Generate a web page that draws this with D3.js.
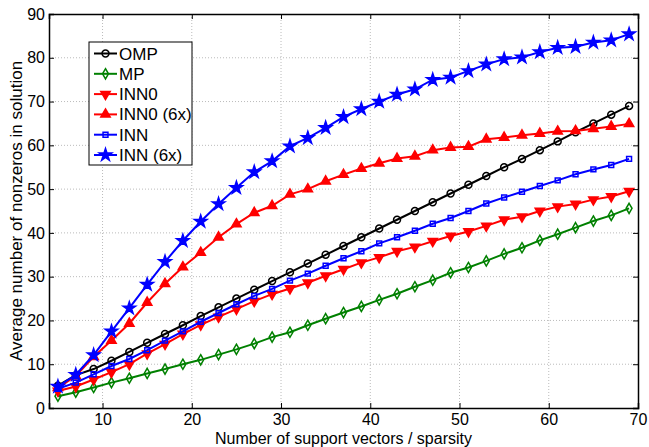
<!DOCTYPE html>
<html>
<head>
<meta charset="utf-8">
<script src="https://cdn.jsdelivr.net/npm/d3@7"></script>
<style>
  html, body { margin: 0; padding: 0; background: #fff; }
  svg { display: block; font-family: 'Liberation Sans', Arial, sans-serif; }
  .tick text { font-size: 16px; fill: #000; font-family: 'Liberation Sans', Arial, sans-serif; }
</style>
</head>
<body>
<div id="container"></div>
<script>
// Average number of nonzeros vs sparsity - line chart

//### DATA ###
const sparsity = [ 5, 7, 9, 11, 13, 15, 17, 19, 21, 23, 25, 27, 29, 31, 33, 35, 37, 39, 41, 43, 45, 47, 49, 51, 53, 55, 57, 59, 61, 63, 65, 67, 69 ];

const ompValues = [ 5.1, 7.5, 8.9, 10.8, 12.8, 14.9, 16.9, 18.9, 21.0, 23.0, 25.0, 27.0, 29.0, 31.0, 33.0, 35.0, 37.0, 39.0, 41.0, 43.0, 45.0, 47.0, 49.0, 51.0, 53.0, 55.0, 56.9, 58.9, 60.9, 63.0, 65.0, 67.0, 69.0 ];
const mpValues = [ 2.7, 3.6, 4.7, 5.8, 6.8, 7.9, 8.9, 10.0, 11.0, 12.2, 13.4, 14.7, 16.2, 17.3, 18.9, 20.4, 21.8, 23.2, 24.7, 26.1, 27.7, 29.2, 30.9, 32.1, 33.6, 35.2, 36.6, 38.3, 39.7, 41.2, 42.7, 44.0, 45.6 ];
const inn0Values = [ 3.9, 4.9, 6.5, 8.2, 10.0, 12.4, 14.6, 16.9, 19.0, 20.8, 22.6, 24.4, 26.0, 27.3, 28.6, 30.2, 31.7, 33.2, 34.4, 35.8, 36.8, 38.1, 39.3, 40.3, 41.6, 43.0, 43.7, 45.0, 46.0, 46.6, 47.6, 48.3, 49.5 ];
const inn06xValues = [ 4.6, 7.3, 11.7, 15.4, 19.3, 24.1, 28.4, 32.2, 35.5, 39.0, 42.0, 44.6, 46.2, 48.8, 50.0, 51.8, 53.3, 54.7, 55.9, 57.0, 57.5, 58.9, 59.5, 59.7, 61.4, 61.8, 62.3, 62.7, 63.2, 63.3, 63.8, 64.3, 64.9 ];
const innValues = [ 4.4, 5.8, 7.7, 9.6, 11.2, 13.2, 15.4, 17.5, 19.7, 21.7, 23.7, 25.6, 27.2, 29.1, 30.7, 32.5, 34.2, 35.8, 37.6, 39.0, 40.5, 42.1, 43.4, 45.0, 46.7, 48.1, 49.4, 50.7, 52.0, 53.4, 54.5, 55.5, 56.9 ];
const inn6xValues = [ 4.9, 7.6, 12.1, 17.5, 22.8, 28.2, 33.4, 38.2, 42.6, 46.6, 50.3, 53.9, 56.4, 59.8, 61.7, 64.0, 66.5, 68.3, 70.0, 71.6, 72.8, 75.0, 75.5, 77.0, 78.5, 79.7, 80.1, 81.3, 82.3, 82.5, 83.5, 84.0, 85.4 ];

const seriesNames = [ 'OMP', 'MP', 'INN0', 'INN0 (6x)', 'INN', 'INN (6x)' ];
const xTicks = [ 10, 20, 30, 40, 50, 60, 70 ];
const yTicks = [ 0, 10, 20, 30, 40, 50, 60, 70, 80, 90 ];

const xLabel = 'Number of support vectors / sparsity';
const yLabel = 'Average number of nonzeros in solution';


//### CREATE THE VISUALIZATION ###
function createVisualization () {

  //_____ VARIABLES _____
  const totalWidth = 649;
  const totalHeight = 447;
  const margin = { top: 14, right: 11, bottom: 39, left: 49 };
  const width = totalWidth - margin.left - margin.right;
  const height = totalHeight - margin.top - margin.bottom;


  //_____ SERIES STYLE _____
  //>>> marker shape, color, fill for each series (MATLAB look)
  const styles = [
    { color: '#000000', symbol: d3.symbolCircle, size: 38, filled: false, rotate: 0 },
    { color: '#008000', symbol: d3.symbolDiamond, size: 30, filled: false, rotate: 0 },
    { color: '#ff0000', symbol: d3.symbolTriangle, size: 38, filled: true, rotate: 180 },
    { color: '#ff0000', symbol: d3.symbolTriangle, size: 38, filled: true, rotate: 0 },
    { color: '#0000ff', symbol: d3.symbolSquare, size: 24, filled: false, rotate: 0 },
    { color: '#0000ff', symbol: d3.symbolStar, size: 48, filled: true, rotate: 0 }
  ];

  const seriesValues = [ ompValues, mpValues, inn0Values, inn06xValues, innValues, inn6xValues ];

  const series = seriesNames.map( ( name, i ) => ( {
    name,
    style: styles[ i ],
    points: sparsity.map( ( x, j ) => ( { x, y: seriesValues[ i ][ j ] } ) )
  } ) );


  //_____ SET THE SCALES _____
  const xScale = d3.scaleLinear()
    .domain( [ 4, 70 ] )
    .range( [ 0, width ] );

  const yScale = d3.scaleLinear()
    .domain( [ 0, 90 ] )
    .range( [ height, 0 ] );


  //_____ SVG _____
  const svg = d3.select( '#container' )
    .append( 'svg' )
    .attr( 'width', totalWidth )
    .attr( 'height', totalHeight )
    .append( 'g' )
    .attr( 'transform', `translate(${margin.left}, ${margin.top})` );


  //_____ GRID _____
  const grid = svg.append( 'g' ).attr( 'class', 'grid' );

  grid.selectAll( '.vgrid' )
    .data( xTicks.filter( t => t < 70 ) )
    .enter()
    .append( 'line' )
    .attr( 'x1', d => xScale( d ) )
    .attr( 'x2', d => xScale( d ) )
    .attr( 'y1', 0 )
    .attr( 'y2', height )
    .style( 'stroke', '#bbbbbb' )
    .style( 'stroke-width', 1 )
    .style( 'stroke-dasharray', '1,2' );

  grid.selectAll( '.hgrid' )
    .data( yTicks.filter( t => t > 0 && t < 90 ) )
    .enter()
    .append( 'line' )
    .attr( 'x1', 0 )
    .attr( 'x2', width )
    .attr( 'y1', d => yScale( d ) )
    .attr( 'y2', d => yScale( d ) )
    .style( 'stroke', '#bbbbbb' )
    .style( 'stroke-width', 1 )
    .style( 'stroke-dasharray', '1,2' );


  //_____ LINES AND MARKERS _____
  const line = d3.line()
    .x( d => xScale( d.x ) )
    .y( d => yScale( d.y ) );

  function markerPath ( style ) {
    return d3.symbol().type( style.symbol ).size( style.size )();
  }

  function drawMarker ( sel, style ) {
    sel.append( 'path' )
      .attr( 'd', markerPath( style ) )
      .attr( 'transform', p => `translate(${p.x}, ${p.y}) rotate(${style.rotate})` )
      .style( 'fill', style.filled ? style.color : 'none' )
      .style( 'stroke', style.color )
      .style( 'stroke-width', 1.5 );
  }

  series.forEach( s => {
    const g = svg.append( 'g' ).attr( 'class', 'series' );

    g.append( 'path' )
      .datum( s.points )
      .attr( 'd', line )
      .style( 'fill', 'none' )
      .style( 'stroke', s.style.color )
      .style( 'stroke-width', 2 );

    const markers = g.selectAll( '.marker' )
      .data( s.points.map( p => ( { x: xScale( p.x ), y: yScale( p.y ) } ) ) )
      .enter()
      .append( 'g' )
      .attr( 'class', 'marker' );

    drawMarker( markers, s.style );
  } );


  //_____ AXES _____
  const xAxis = d3.axisBottom( xScale ).tickValues( xTicks ).tickSize( -5 ).tickPadding( 6 );
  const yAxis = d3.axisLeft( yScale ).tickValues( yTicks ).tickSize( -5 ).tickPadding( 4 );
  const xAxisTop = d3.axisTop( xScale ).tickValues( xTicks ).tickSize( -5 ).tickFormat( '' );
  const yAxisRight = d3.axisRight( yScale ).tickValues( yTicks ).tickSize( -5 ).tickFormat( '' );

  const axes = [
    svg.append( 'g' ).attr( 'id', 'x-axis' ).attr( 'transform', `translate(0, ${height})` ).call( xAxis ),
    svg.append( 'g' ).attr( 'id', 'y-axis' ).call( yAxis ),
    svg.append( 'g' ).attr( 'transform', 'translate(0, 0)' ).call( xAxisTop ),
    svg.append( 'g' ).attr( 'transform', `translate(${width}, 0)` ).call( yAxisRight )
  ];

  axes.forEach( a => {
    a.select( '.domain' ).style( 'stroke', '#000' ).style( 'stroke-width', 1.5 );
    a.selectAll( '.tick line' ).style( 'stroke', '#000' ).style( 'stroke-width', 1 );
  } );


  //_____ AXES LABELS _____
  //--- squeezed between tick labels and the bottom edge
  svg.append( 'text' )
    .attr( 'x', width / 2 )
    .attr( 'y', height + 35.8 )
    .style( 'text-anchor', 'middle' )
    .style( 'font-size', '16px' )
    .text( xLabel );

  svg.append( 'text' )
    .attr( 'transform', `translate(${22 - margin.left}, ${height / 2}) rotate(-90)` )
    .style( 'text-anchor', 'middle' )
    .style( 'font-size', '17px' )
    .text( yLabel );


  //_____ LEGEND _____
  const legend = svg.append( 'g' )
    .attr( 'id', 'legend' )
    .attr( 'transform', `translate(${89 - margin.left}, ${42 - margin.top})` );

  legend.append( 'rect' )
    .attr( 'width', 103 )
    .attr( 'height', 123 )
    .style( 'fill', '#fff' )
    .style( 'stroke', '#000' )
    .style( 'stroke-width', 1 );

  series.forEach( ( s, index ) => {
    const rowY = 11.5 + index * 20.3;

    legend.append( 'line' )
      .attr( 'x1', 5 )
      .attr( 'x2', 28 )
      .attr( 'y1', rowY )
      .attr( 'y2', rowY )
      .style( 'stroke', s.style.color )
      .style( 'stroke-width', 2 );

    const m = legend.append( 'g' ).datum( { x: 16.5, y: rowY } );
    drawMarker( m, s.style );

    legend.append( 'text' )
      .attr( 'x', 30 )
      .attr( 'y', rowY + 6 )
      .style( 'font-size', '17px' )
      .text( s.name );
  } );

}

createVisualization();
</script>
</body>
</html>
